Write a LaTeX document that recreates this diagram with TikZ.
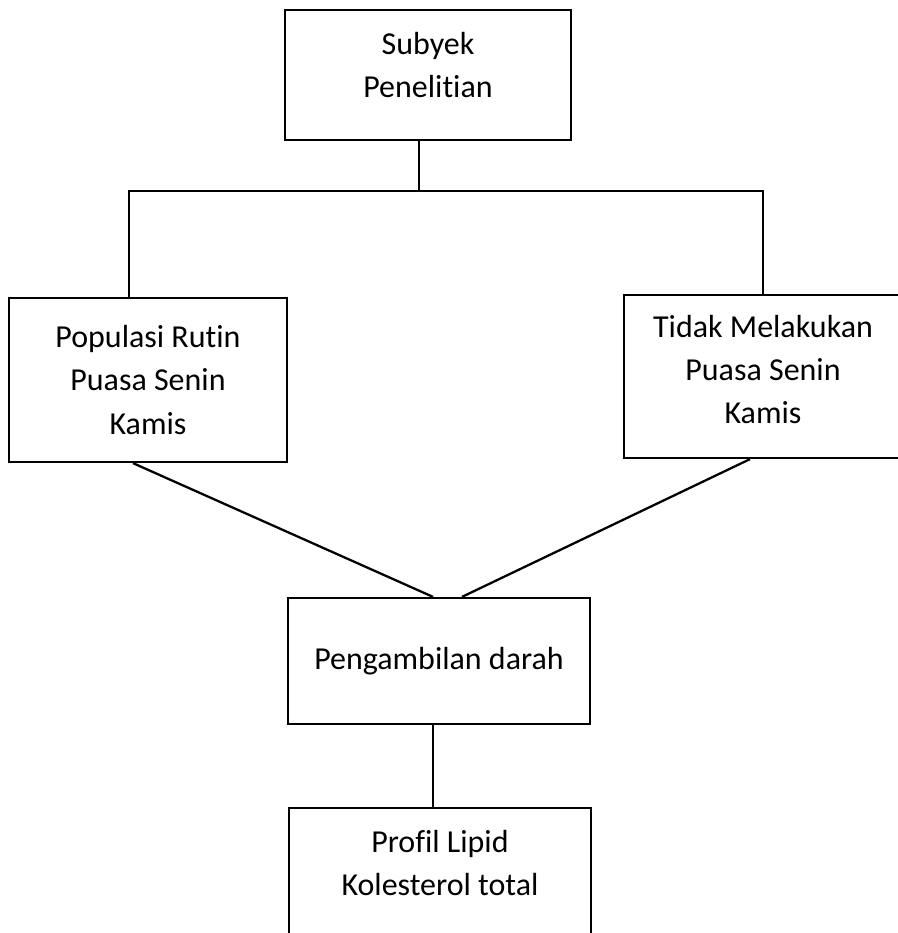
\documentclass[tikz,border=0pt]{standalone}
\usepackage{fontspec}
\setmainfont{Carlito}[Ligatures=NoCommon]
\usetikzlibrary{calc}
\tikzset{
	kotak/.style={draw, line width=1.3pt, align=center, inner sep=0pt,
		font=\fontsize{18.2}{24.5}\selectfont},
	garis/.style={line width=1.3pt}
}

\begin{document}
\begin{tikzpicture}[x=0.02cm, y=-0.02cm]
		%%%%% START %%%%%
		\useasboundingbox (0, 0) rectangle (897, 933);
		
		\node[kotak, minimum width=5.72cm, minimum height=2.6cm, text depth=0.42cm] (subyek) at (428, 75) {Subyek\\Penelitian};
		
		\node[kotak, minimum width=5.56cm, minimum height=3.28cm] (populasi) at (148, 380) {Populasi Rutin\\Puasa Senin\\Kamis};
		\node[kotak, minimum width=5.56cm, minimum height=3.26cm, text depth=0.28cm] (tidak) at (763, 376.5) {Tidak Melakukan\\Puasa Senin\\Kamis};
		
		\node[kotak, minimum width=6.04cm, minimum height=2.52cm] (darah) at (439, 661) {Pengambilan darah};
		
		\node[kotak, minimum width=6.04cm, minimum height=3cm, text depth=0.8cm] (profil) at (440, 883) {Profil Lipid\\Kolesterol total};
		
		%%%%% CONNECTORS %%%%%
		\coordinate (jt) at (419, 191);
		\coordinate (jl) at (129, 191);
		\coordinate (jr) at (763, 191);
		
		\draw[garis] (subyek.south -| jt) -- (jt);
		\draw[garis] (jl |- populasi.north) -- (jl) -- (jr) -- (tidak.north);
		
		\draw[garis] ($(populasi.south)+(-15, 0)$) -- ($(darah.north)+(-6, 0)$);
		\draw[garis] ($(tidak.south)+(-13, 0)$) -- ($(darah.north)+(23, 0)$);
		
		\draw[garis] ($(darah.south)+(-6, 0)$) coordinate (db) -- (db |- profil.north);
		
		%%%%% END %%%%%
\end{tikzpicture}
\end{document}
